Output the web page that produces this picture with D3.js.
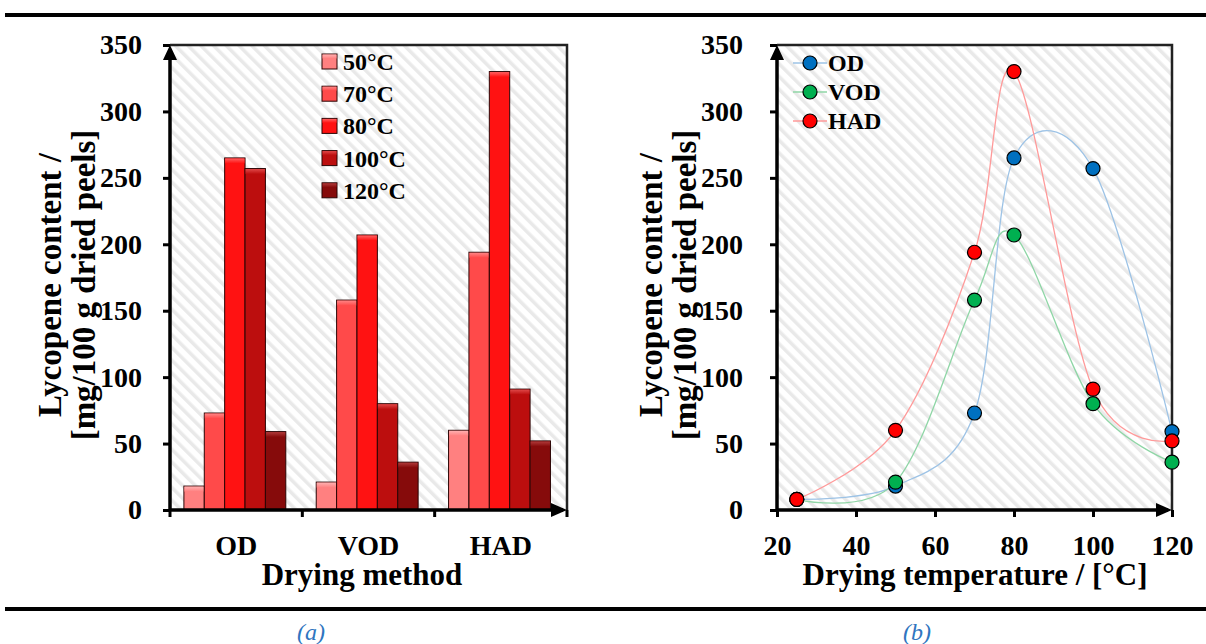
<!DOCTYPE html>
<html>
<head>
<meta charset="utf-8">
<script src="https://cdn.jsdelivr.net/npm/d3@7"></script>
<style>
  body { margin: 0; background: #fff; }
  text { font-family: "Liberation Serif", "Times New Roman", serif; font-weight: bold; fill: #000; }
</style>
</head>
<body>
<svg id="canvas"></svg>
<script>
// data
let methods = ['OD', 'VOD', 'HAD'];
let temps = ['50°C', '70°C', '80°C', '100°C', '120°C'];
let tempValues = [25, 50, 70, 80, 100, 120];
let odValues = [8, 18, 73, 265, 257, 59];
let vodValues = [8, 21, 158, 207, 80, 36];
let hadValues = [8, 60, 194, 330, 91, 52];
let yTicks = [0, 50, 100, 150, 200, 250, 300, 350];
let xTicks = [20, 40, 60, 80, 100, 120];
let barColors = ['#ff8080', '#ff4a4a', '#ff1212', '#bc0e0e', '#860b0b'];
let capColors = ['#ffb0b0', '#ff8585', '#ff6060', '#e04848', '#b03a3a'];
let lineNames = ['OD', 'VOD', 'HAD'];
let dotColors = ['#0070c0', '#00b050', '#ff0000'];
let curveColors = ['#9dc3e6', '#8fd6a6', '#ff9a9a'];

let svg = d3.select('#canvas')
  .attr('width', 1206)
  .attr('height', 644);

// hatch background
let defs = svg.append('defs');
let pat = defs.append('pattern')
  .attr('id', 'hatch')
  .attr('patternUnits', 'userSpaceOnUse')
  .attr('width', 9)
  .attr('height', 9)
  .attr('patternTransform', 'rotate(-45)');
pat.append('rect').attr('width', 9).attr('height', 9).attr('fill', '#fff');
pat.append('rect').attr('width', 3.5).attr('height', 9).attr('fill', '#e9e9e9');

barColors.forEach((c, i) => {
  let g = defs.append('linearGradient')
    .attr('id', 'cap' + i)
    .attr('x1', 0).attr('y1', 0).attr('x2', 0).attr('y2', 1);
  g.append('stop').attr('offset', '0%').attr('stop-color', capColors[i]);
  g.append('stop').attr('offset', '100%').attr('stop-color', c);
});

// rules and captions
svg.append('rect').attr('x', 5).attr('y', 13).attr('width', 1201).attr('height', 4).attr('fill', '#000');
svg.append('rect').attr('x', 5).attr('y', 607).attr('width', 1201).attr('height', 4).attr('fill', '#000');
svg.append('text').attr('x', 311).attr('y', 640).attr('text-anchor', 'middle')
  .style('font-weight', 'normal').style('font-style', 'italic').style('font-size', '24px')
  .style('fill', '#2f75c0').text('(a)');
svg.append('text').attr('x', 917).attr('y', 640).attr('text-anchor', 'middle')
  .style('font-weight', 'normal').style('font-style', 'italic').style('font-size', '24px')
  .style('fill', '#2f75c0').text('(b)');

function frame(x0, x1, y0, y1) {
  svg.append('rect').attr('x', x0).attr('y', y0)
    .attr('width', x1 - x0).attr('height', y1 - y0)
    .attr('fill', 'url(#hatch)');
  svg.append('path')
    .attr('d', `M${x0},${y0}H${x1}V${y1}`)
    .attr('fill', 'none').attr('stroke', '#222').attr('stroke-width', 2.5);
}

function axesLines(x0, x1, y0, y1) {
  svg.append('path')
    .attr('d', `M${x0},${y1}V${y0 + 4}M${x0},${y1}H${x1 - 4}`)
    .attr('fill', 'none').attr('stroke', '#000').attr('stroke-width', 3.5);
  svg.append('path')
    .attr('d', `M${x0},${y0}L${x0 - 7},${y0 + 15}L${x0 + 7},${y0 + 15}Z`)
    .attr('fill', '#000');
  svg.append('path')
    .attr('d', `M${x1},${y1}L${x1 - 16},${y1 - 7}L${x1 - 16},${y1 + 7}Z`)
    .attr('fill', '#000');
}

function yTitle(cx, cy) {
  let t = svg.append('text')
    .attr('transform', `translate(${cx},${cy}) rotate(-90)`)
    .attr('text-anchor', 'middle')
    .style('font-size', '33px');
  t.append('tspan').attr('x', 0).attr('y', 0).text('Lycopene content /');
  t.append('tspan').attr('x', 0).attr('y', 34).text('[mg/100 g dried peels]');
}

// ---------- chart (a): bars ----------
let ax0 = 170, ax1 = 567, ay0 = 45, ay1 = 510;
frame(ax0, ax1, ay0, ay1);

let y = d3.scaleLinear().domain([0, 350]).range([ay1, ay0]);
let x = d3.scaleBand().domain(methods).range([ax0, ax1]);
let xSub = d3.scaleBand().domain(temps)
  .range([x.bandwidth() * 0.105, x.bandwidth() * 0.875]);

let barData = [];
methods.forEach((m, mi) => {
  let vals = [odValues, vodValues, hadValues][mi];
  temps.forEach((t, ti) => barData.push({ m: m, t: t, i: ti, v: vals[ti + 1] }));
});

let bars = svg.selectAll('g.bar')
  .data(barData)
  .join('g')
  .attr('class', 'bar');
bars.append('rect')
  .attr('x', d => x(d.m) + xSub(d.t))
  .attr('y', d => y(d.v))
  .attr('width', xSub.bandwidth())
  .attr('height', d => y(0) - y(d.v))
  .attr('fill', d => barColors[d.i])
  .attr('stroke', '#2a0505')
  .attr('stroke-width', 1);
bars.append('rect')
  .attr('x', d => x(d.m) + xSub(d.t) + 0.5)
  .attr('y', d => y(d.v) + 0.5)
  .attr('width', xSub.bandwidth() - 1)
  .attr('height', 5)
  .attr('fill', d => `url(#cap${d.i})`);

svg.append('g')
  .attr('transform', `translate(${ax0},0)`)
  .call(d3.axisLeft(y).tickValues(yTicks).tickSize(7).tickPadding(21))
  .call(g => g.select('.domain').remove())
  .call(g => g.selectAll('line').attr('stroke', '#000').attr('stroke-width', 3))
  .call(g => g.selectAll('text').style('font-size', '28px').attr('font-family', null));

// category boundary ticks
svg.append('g').selectAll('line')
  .data(methods.concat(['end']))
  .join('line')
  .attr('x1', d => d === 'end' ? ax1 : x(d))
  .attr('x2', d => d === 'end' ? ax1 : x(d))
  .attr('y1', ay1).attr('y2', ay1 + 7)
  .attr('stroke', '#000').attr('stroke-width', 3);

svg.append('g').selectAll('text')
  .data(methods)
  .join('text')
  .attr('x', d => x(d) + x.bandwidth() / 2)
  .attr('y', 555)
  .attr('text-anchor', 'middle')
  .style('font-size', '28px')
  .text(d => d);

axesLines(ax0, ax1, ay0, ay1);

svg.append('text').attr('x', 362).attr('y', 585).attr('text-anchor', 'middle')
  .style('font-size', '31px').text('Drying method');
yTitle(61, 285);

// legend (a)
let leg = svg.append('g').selectAll('g')
  .data(temps)
  .join('g')
  .attr('transform', (d, i) => `translate(322,${62 + i * 32.2})`);
leg.append('rect')
  .attr('x', 0).attr('y', -8).attr('width', 15).attr('height', 15)
  .attr('fill', (d, i) => barColors[i])
  .attr('stroke', '#2a0505').attr('stroke-width', 1);
leg.append('rect')
  .attr('x', 0.5).attr('y', -7.5).attr('width', 14).attr('height', 4)
  .attr('fill', (d, i) => `url(#cap${i})`);
leg.append('text')
  .attr('x', 21).attr('y', 8)
  .style('font-size', '24px')
  .text(d => d);

// ---------- chart (b): lines ----------
let bx0 = 777, bx1 = 1172, by0 = 45, by1 = 510;
frame(bx0, bx1, by0, by1);

let x2 = d3.scaleLinear().domain([20, 120]).range([bx0, bx1]);
let y2 = d3.scaleLinear().domain([0, 350]).range([by1, by0]);

svg.append('g')
  .attr('transform', `translate(${bx0},0)`)
  .call(d3.axisLeft(y2).tickValues(yTicks).tickSize(7).tickPadding(27))
  .call(g => g.select('.domain').remove())
  .call(g => g.selectAll('line').attr('stroke', '#000').attr('stroke-width', 3))
  .call(g => g.selectAll('text').style('font-size', '28px').attr('font-family', null));

svg.append('g')
  .attr('transform', `translate(0,${by1})`)
  .call(d3.axisBottom(x2).tickValues(xTicks).tickSize(7).tickPadding(18))
  .call(g => g.select('.domain').remove())
  .call(g => g.selectAll('line').attr('stroke', '#000').attr('stroke-width', 3))
  .call(g => g.selectAll('text').style('font-size', '28px').attr('font-family', null));

axesLines(bx0, bx1, by0, by1);

let series = [odValues, vodValues, hadValues].map((vals, si) => ({
  name: lineNames[si],
  si: si,
  pts: vals.map((v, i) => ({ t: tempValues[i], v: v }))
}));

let line = d3.line()
  .x(d => x2(d.t))
  .y(d => y2(d.v))
  .curve(d3.curveCardinal.tension(0));

svg.append('g').selectAll('path')
  .data(series)
  .join('path')
  .attr('d', d => line(d.pts))
  .attr('fill', 'none')
  .attr('stroke', d => curveColors[d.si])
  .attr('stroke-width', 1.3);

series.forEach(s => {
  svg.append('g').selectAll('circle')
    .data(s.pts)
    .join('circle')
    .attr('cx', d => x2(d.t))
    .attr('cy', d => y2(d.v))
    .attr('r', 7)
    .attr('fill', dotColors[s.si])
    .attr('stroke', '#000')
    .attr('stroke-width', 1.2);
});

svg.append('text').attr('x', 975).attr('y', 585).attr('text-anchor', 'middle')
  .style('font-size', '31px').text('Drying temperature / [°C]');
yTitle(662, 285);

// legend (b)
let leg2 = svg.append('g').selectAll('g')
  .data(lineNames)
  .join('g')
  .attr('transform', (d, i) => `translate(810,${63 + i * 29})`);
leg2.append('line')
  .attr('x1', -17).attr('x2', 17)
  .attr('stroke', (d, i) => curveColors[i]).attr('stroke-width', 1.3);
leg2.append('circle')
  .attr('r', 7)
  .attr('fill', (d, i) => dotColors[i])
  .attr('stroke', '#000').attr('stroke-width', 1.2);
leg2.append('text')
  .attr('x', 18).attr('y', 8)
  .style('font-size', '24px')
  .text(d => d);
</script>
</body>
</html>
